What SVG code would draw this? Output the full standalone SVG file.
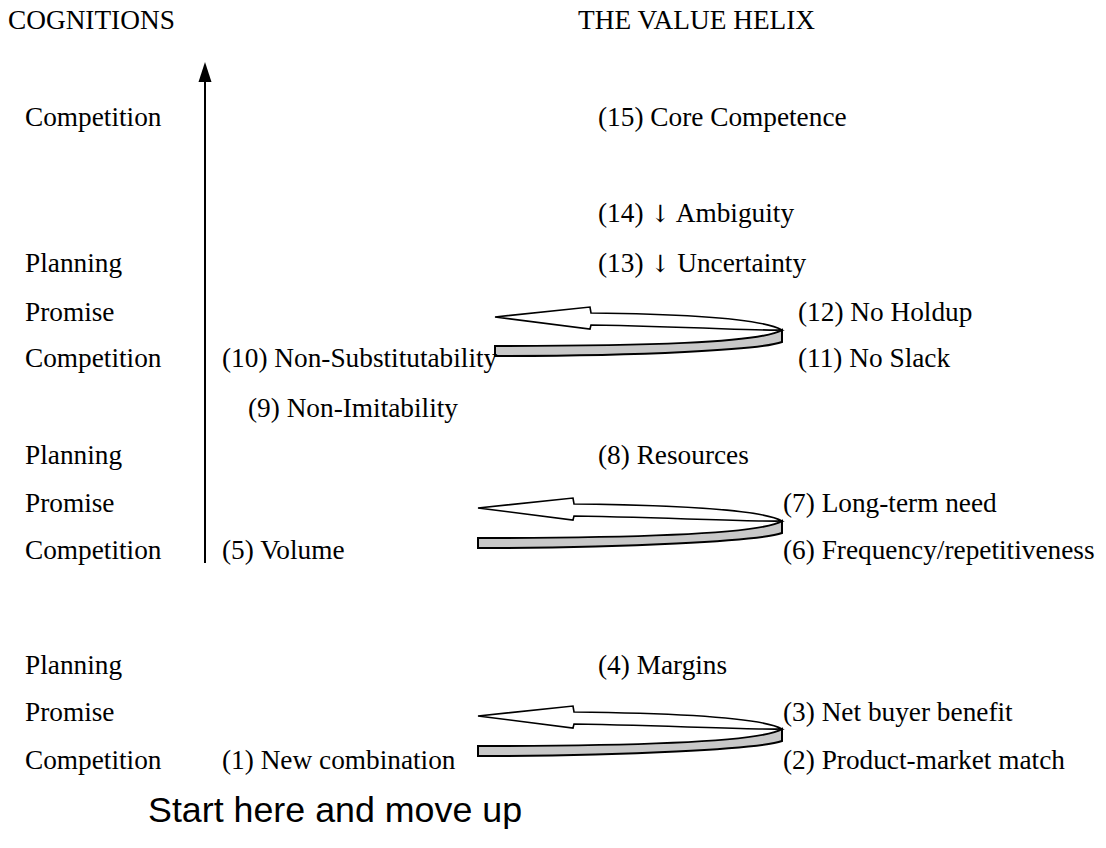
<svg xmlns="http://www.w3.org/2000/svg" width="1106" height="848" viewBox="0 0 1106 848">
  <style>
    .t { font-family: "Liberation Serif", "Times New Roman", serif; font-size: 27.3px; fill: #000; }
    .arr { font-family: "DejaVu Serif", serif; font-size: 24px; }
    .s { font-family: "Liberation Sans", Arial, sans-serif; font-size: 35.8px; fill: #000; }
    .head { fill: #fff; stroke: #000; stroke-width: 1.6; stroke-linejoin: miter; }
    .band { fill: #c8c8c8; stroke: #000; stroke-width: 2; stroke-linejoin: miter; }
    .axis { stroke: #000; stroke-width: 2; fill: none; }
  </style>
  <rect width="1106" height="848" fill="#fff"/>

  <!-- column headings -->
  <g id="headings">
    <text class="t" x="8" y="29">COGNITIONS</text>
    <text class="t" x="578" y="29">THE VALUE HELIX</text>
  </g>

  <!-- cognition labels down the left side -->
  <g id="cognitions">
    <text class="t" x="25" y="126">Competition</text>
    <text class="t" x="25" y="272">Planning</text>
    <text class="t" x="25" y="321">Promise</text>
    <text class="t" x="25" y="367">Competition</text>
    <text class="t" x="25" y="464">Planning</text>
    <text class="t" x="25" y="512">Promise</text>
    <text class="t" x="25" y="559">Competition</text>
    <text class="t" x="25" y="674">Planning</text>
    <text class="t" x="25" y="721">Promise</text>
    <text class="t" x="25" y="769">Competition</text>
  </g>

  <!-- connectors: upward axis and the three helix turns -->
  <g id="connectors">
    <line class="axis" x1="205" y1="563" x2="205" y2="78"/>
    <polygon points="205,62 198.5,82 211.5,82" fill="#000"/>

    <g id="turn-3">
      <path class="head" d="M495,317 L590,307 L591,313 C680,314 761,318 782,330 C761,331 700,327 591,325 L590,329 Z"/>
      <path class="band" d="M495,346 C640,346 760,343 782,330 L782,342 C760,350 640,356 495,356 Z"/>
    </g>
    <g id="turn-2">
      <path class="head" d="M478,508 L573,498 L574,504 C663,505 761,509 782,521 C761,522 683,518 574,516 L573,520 Z"/>
      <path class="band" d="M478,538 C623,538 760,535 782,521 L782,533 C760,541 623,548 478,548 Z"/>
    </g>
    <g id="turn-1">
      <path class="head" d="M478,716 L573,706 L574,712 C663,713 761,717 782,729 C761,730 683,726 574,724 L573,728 Z"/>
      <path class="band" d="M478,746 C623,746 760,743 782,729 L782,741 C760,749 623,756 478,756 Z"/>
    </g>
  </g>

  <!-- helix steps -->
  <g id="n15"><text class="t" x="598" y="126">(15) Core Competence</text></g>
  <g id="n14"><text class="t" x="598" y="222">(14) <tspan class="arr">↓</tspan> Ambiguity</text></g>
  <g id="n13"><text class="t" x="598" y="272">(13) <tspan class="arr">↓</tspan> Uncertainty</text></g>
  <g id="n12"><text class="t" x="798" y="321">(12) No Holdup</text></g>
  <g id="n11"><text class="t" x="798" y="367">(11) No Slack</text></g>
  <g id="n10"><text class="t" x="222" y="367">(10) Non-Substitutability</text></g>
  <g id="n9"><text class="t" x="248" y="417">(9) Non-Imitability</text></g>
  <g id="n8"><text class="t" x="598" y="464">(8) Resources</text></g>
  <g id="n7"><text class="t" x="783" y="512">(7) Long-term need</text></g>
  <g id="n6"><text class="t" x="783" y="559">(6) Frequency/repetitiveness</text></g>
  <g id="n5"><text class="t" x="222" y="559">(5) Volume</text></g>
  <g id="n4"><text class="t" x="598" y="674">(4) Margins</text></g>
  <g id="n3"><text class="t" x="783" y="721">(3) Net buyer benefit</text></g>
  <g id="n2"><text class="t" x="783" y="769">(2) Product-market match</text></g>
  <g id="n1"><text class="t" x="222" y="769">(1) New combination</text></g>

  <g id="start-note">
    <text class="s" x="148" y="822">Start here and move up</text>
  </g>
</svg>
